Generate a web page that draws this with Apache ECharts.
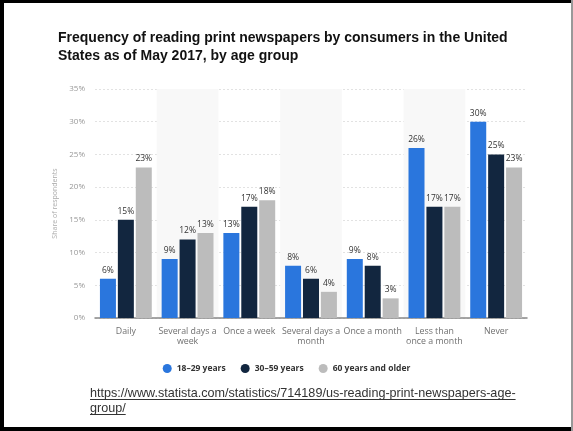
<!DOCTYPE html>
<html>
<head>
<meta charset="utf-8">
<script src="https://cdn.jsdelivr.net/npm/echarts@6/dist/echarts.min.js"></script>
<style>
html, body { margin: 0; padding: 0; background: #fff; }
#chart { width: 573px; height: 431px; }
</style>
</head>
<body>
<div id="chart"></div>
<script>
// categories and values (share of respondents, %)
const categories = ['Daily', 'Several days a\nweek', 'Once a week', 'Several days a\nmonth', 'Once a month', 'Less than\nonce a month', 'Never'];
const young = [6, 9, 13, 8, 9, 26, 30];
const middle = [15, 12, 17, 6, 8, 17, 25];
const older = [23, 13, 18, 4, 3, 17, 23];
const seriesNames = ['18–29 years', '30–59 years', '60 years and older'];
const yTicks = [0, 5, 10, 15, 20, 25, 30, 35];
const sourceLines = ['https://www.statista.com/statistics/714189/us-reading-print-newspapers-age-', 'group/'];

const colors = ['#2a76dd', '#12263f', '#bcbcbc'];

// widths of the link lines, for the underline
const urlFont = '12.6px "Liberation Sans"';
const ctx = document.createElement('canvas').getContext('2d');
ctx.font = urlFont;
const urlWidths = sourceLines.map(s => ctx.measureText(s).width);

let chart = echarts.init(document.getElementById('chart'));

function barSeries(name, data, color) {
    return {
        name: name,
        type: 'bar',
        data: data,
        color: color,
        barWidth: 16,
        barGap: '12%',
        label: {
            show: true,
            position: 'top',
            distance: 4,
            formatter: '{c}%',
            fontSize: 8.5,
            color: '#333',
            fontFamily: 'Open Sans'
        }
    };
}

chart.setOption({
    animation: false,
    title: {
        text: 'Frequency of reading print newspapers by consumers in the United\nStates as of May 2017, by age group',
        left: 53,
        top: 24,
        textStyle: {
            fontFamily: 'Liberation Sans',
            fontWeight: 'bold',
            fontSize: 14,
            lineHeight: 18,
            color: '#111'
        }
    },
    legend: {
        bottom: 53,
        left: 'center',
        icon: 'circle',
        itemWidth: 9,
        itemHeight: 9,
        itemGap: 15,
        textStyle: {
            fontSize: 8.5,
            fontWeight: 'bold',
            color: '#333',
            fontFamily: 'Open Sans'
        }
    },
    grid: {
        left: 95,
        right: 46,
        top: 89,
        bottom: 113
    },
    xAxis: {
        type: 'category',
        data: categories,
        axisTick: { show: false },
        axisLine: { lineStyle: { color: '#888', width: 1.5 } },
        axisLabel: {
            interval: 0,
            fontSize: 8.8,
            color: '#707070',
            lineHeight: 10,
            margin: 8,
            fontFamily: 'Open Sans'
        },
        splitArea: {
            show: true,
            interval: 0,
            areaStyle: { color: ['rgba(255,255,255,0)', '#f8f8f8'] }
        }
    },
    yAxis: {
        type: 'value',
        min: yTicks[0],
        max: yTicks[yTicks.length - 1],
        interval: 5,
        name: 'Share of respondents',
        nameLocation: 'middle',
        nameGap: 25,
        nameTextStyle: { fontSize: 7, color: '#aaa', fontFamily: 'Open Sans' },
        axisLabel: {
            formatter: '{value}%',
            fontSize: 8,
            color: '#999',
            margin: 10,
            fontFamily: 'Open Sans'
        },
        axisLine: { show: false },
        axisTick: { show: false },
        splitLine: { lineStyle: { color: '#e2e2e2', type: [2, 2] } }
    },
    series: [
        barSeries(seriesNames[0], young, colors[0]),
        barSeries(seriesNames[1], middle, colors[1]),
        barSeries(seriesNames[2], older, colors[2])
    ],
    graphic: [
        // frame around the picture
        { type: 'rect', shape: { x: 0, y: 0, width: 573, height: 3 }, style: { fill: '#000' } },
        { type: 'rect', shape: { x: 0, y: 0, width: 4, height: 431 }, style: { fill: '#000' } },
        { type: 'rect', shape: { x: 0, y: 427, width: 573, height: 4 }, style: { fill: '#000' } },
        { type: 'rect', shape: { x: 571, y: 0, width: 2, height: 431 }, style: { fill: '#999' } },
        // source link
        {
            type: 'text', left: 90, top: 386,
            style: {
                text: sourceLines.join('\n'),
                font: urlFont,
                lineHeight: 15,
                fill: '#333'
            }
        },
        { type: 'line', shape: { x1: 90, y1: 399.5, x2: 90 + urlWidths[0], y2: 399.5 }, style: { stroke: '#333', lineWidth: 1 } },
        { type: 'line', shape: { x1: 90, y1: 414.5, x2: 90 + urlWidths[1], y2: 414.5 }, style: { stroke: '#333', lineWidth: 1 } }
    ]
});
</script>
</body>
</html>
